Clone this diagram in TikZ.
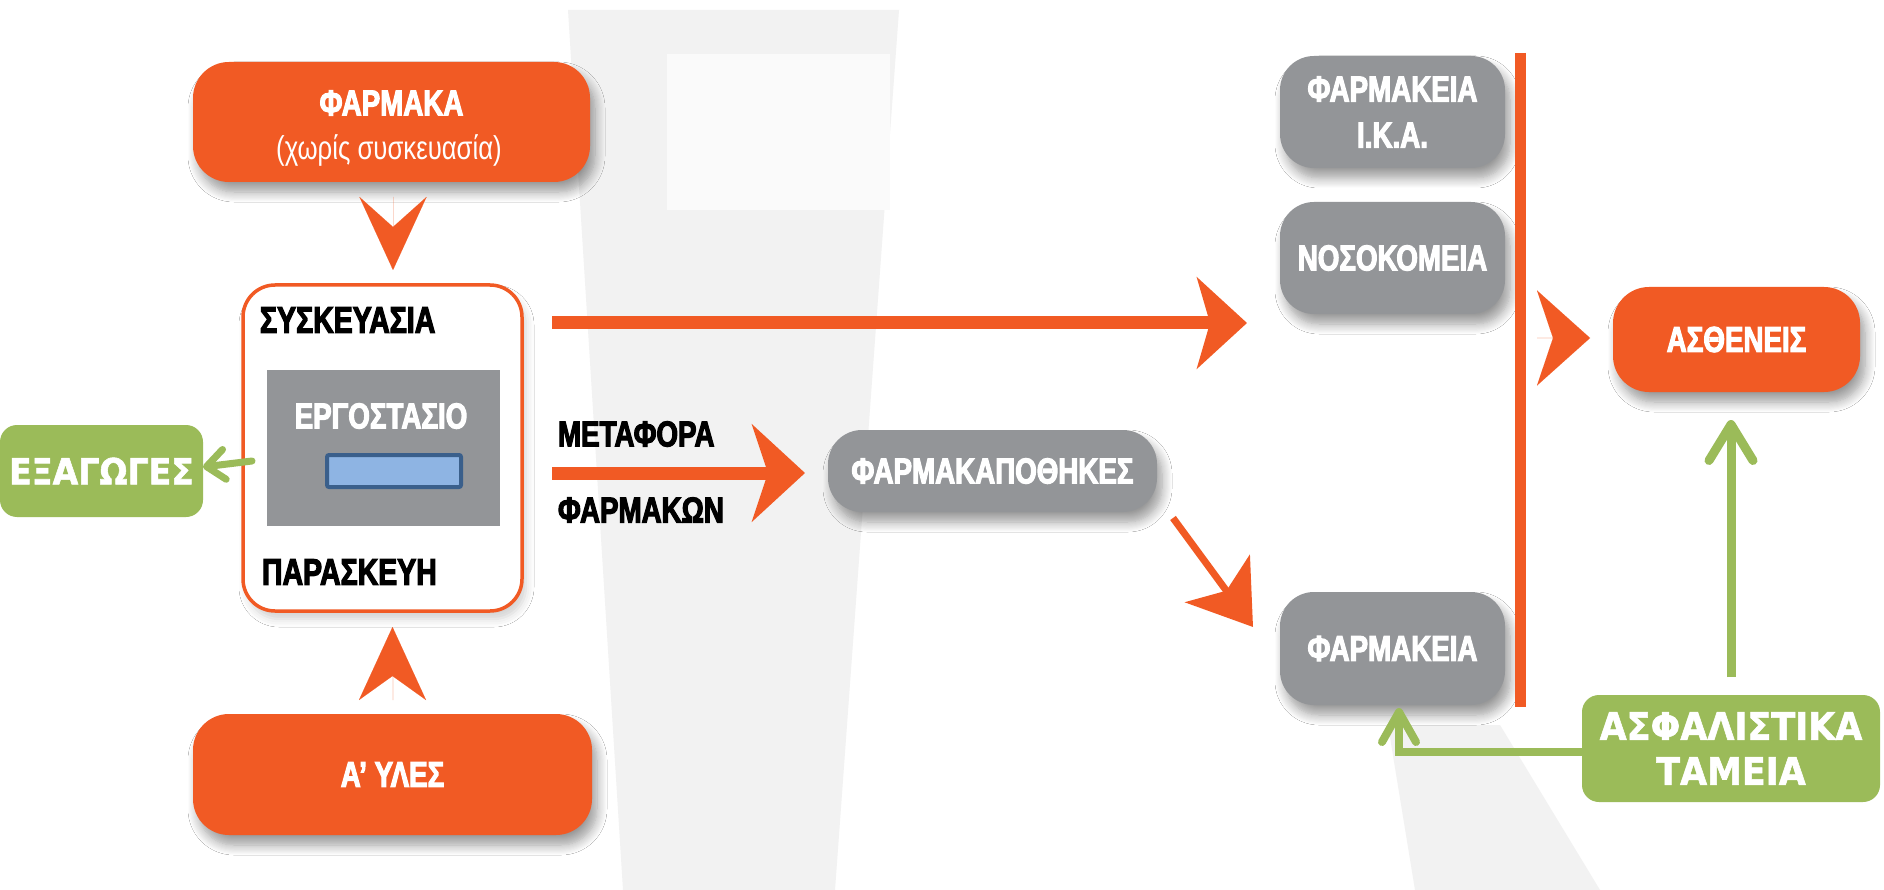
\documentclass[tikz,border=0pt]{standalone}
\usepackage{fontspec}
\setmainfont{Liberation Sans}
\newfontfamily\condf{Liberation Sans}[FakeStretch=0.78]
\newfontfamily\condb{Liberation Sans Bold}[FakeStretch=0.77,FakeBold=3]
\newfontfamily\dejab{DejaVu Sans Bold}[FakeStretch=0.92,FakeBold=1.5]
\usetikzlibrary{calc,arrows.meta,shadows.blur}
\definecolor{orng}{HTML}{F15A24}
\definecolor{gbox}{HTML}{939598}
\definecolor{grn}{HTML}{9BBB59}
\definecolor{bandc}{HTML}{F2F2F2}
\definecolor{bluef}{HTML}{8EB4E3}
\definecolor{blued}{HTML}{3A5F8B}
\begin{document}
\begin{tikzpicture}[x=1pt,y=-1pt,
  shad/.style={blur shadow={shadow xshift=5pt,shadow yshift=-10pt,shadow blur radius=10pt,shadow blur steps=10,shadow opacity=40}},
  basebox/.style={inner sep=0pt,outer sep=0pt,align=center,text=white},
  obox/.style={basebox,fill=orng,rounded corners=36pt,shad,font=\condb\fontsize{36}{46}\selectfont},
  gbx/.style={basebox,fill=gbox,rounded corners=34pt,shad,font=\condb\fontsize{36}{46}\selectfont},
  grbox/.style={basebox,fill=grn,rounded corners=17pt,font=\dejab\fontsize{36}{45}\selectfont},
  darktxt/.style={inner sep=0pt,outer sep=0pt,text=black,font=\condb\fontsize{37}{44}\selectfont},
  whitetxt/.style={inner sep=0pt,outer sep=0pt,text=white,font=\condb\fontsize{36}{44}\selectfont},
  chev/.style={draw=orng,fill=orng,line width=0.01pt},
  bigarrow/.style={draw=orng,line width=13pt,-{Stealth[length=50pt,width=91pt,inset=13pt]}},
  midarrow/.style={draw=orng,line width=13pt,-{Stealth[length=53pt,width=97pt,inset=16pt]}},
  diagarrow/.style={draw=orng,line width=7pt,-{Stealth[length=60pt,width=80pt,inset=15pt]}},
  garrow/.style={draw=grn,line width=7pt,line cap=round,-{Straight Barb[length=18pt,width=30pt,round]}},
  garrowb/.style={draw=grn,line width=9pt,-{Straight Barb[length=36pt,width=44pt,round]}},
  garrowc/.style={draw=grn,line width=8pt,-{Straight Barb[length=30pt,width=34pt,round]}}
]
\useasboundingbox (0,0) rectangle (1884,890);
\fill[white] (0,0) rectangle (1884,890);
% background shapes
\fill[bandc] (568,10) -- (899,10) -- (835,890) -- (623,890) -- cycle;
\fill[white!98!black] (667,54) rectangle (890,210);
\fill[bandc] (1388,725) -- (1500,725) -- (1600,890) -- (1415,890) -- cycle;

% left column
\node[obox,minimum width=397pt,minimum height=120pt] (farmaka) at (391.5,122) {};
\node[whitetxt] (farmakat) at (391.5,103) {ΦΑΡΜΑΚΑ};
\node[inner sep=0pt,text=white,font=\condf\fontsize{33}{40}\selectfont] (farmakas) at (389,150) {(χωρίς συσκευασία)};

\node[draw=orng,line width=3.5pt,fill=white,rounded corners=32pt,inner sep=0pt,outer sep=0pt,
  minimum width=279pt,minimum height=326pt,
  blur shadow={shadow xshift=4pt,shadow yshift=-8pt,shadow blur radius=8pt,shadow opacity=18}] (factory) at (382.5,448) {};
\node[darktxt,anchor=west] (suskt) at (260,320) {ΣΥΣΚΕΥΑΣΙΑ};
\node[fill=gbox,inner sep=0pt,outer sep=0pt,minimum width=233pt,minimum height=156pt] (ergrect) at (383.5,448) {};
\node[whitetxt] (ergt) at (381,416) {ΕΡΓΟΣΤΑΣΙΟ};
\node[fill=bluef,draw=blued,line width=4pt,rounded corners=2pt,inner sep=0pt,minimum width=134pt,minimum height=32pt] (bluer) at (394,471) {};
\node[darktxt,anchor=west] (paraskt) at (262,572) {ΠΑΡΑΣΚΕΥΗ};

\node[obox,minimum width=399pt,minimum height=121pt] (ules) at (392.5,774.5) {Α’ ΥΛΕΣ};
\node[grbox,minimum width=203pt,minimum height=92pt] (exag) at (101.5,471) {ΕΞΑΓΩΓΕΣ};

% middle
\node[darktxt,anchor=west,font=\condb\fontsize{36}{44}\selectfont] (metaft) at (558,434) {ΜΕΤΑΦΟΡΑ};
\node[darktxt,anchor=west,font=\condb\fontsize{36}{44}\selectfont] (farmakwnt) at (558,510) {ΦΑΡΜΑΚΩΝ};
\node[gbx,minimum width=329pt,minimum height=82pt] (apoth) at (992.5,471) {ΦΑΡΜΑΚΑΠΟΘΗΚΕΣ};

% right column
\node[gbx,minimum width=225pt,minimum height=112pt] (ika) at (1392.5,112) {ΦΑΡΜΑΚΕΙΑ\\Ι.Κ.Α.};
\node[gbx,minimum width=225pt,minimum height=112pt] (nosok) at (1392.5,258) {ΝΟΣΟΚΟΜΕΙΑ};
\node[gbx,minimum width=225pt,minimum height=113pt] (farm) at (1392.5,648.5) {ΦΑΡΜΑΚΕΙΑ};
\node[obox,minimum width=247pt,minimum height=105pt] (asth) at (1736.5,339.5) {ΑΣΘΕΝΕΙΣ};
\node[grbox,minimum width=298pt,minimum height=107pt,font=\dejab\fontsize{38}{45}\selectfont] (asf) at (1731,748.5) {ΑΣΦΑΛΙΣΤΙΚΑ\\ΤΑΜΕΙΑ};

% vertical bar
\coordinate (vt) at ($(ika.north east)+(15,-3)$);
\coordinate (vb) at ($(farm.south east)+(15,2)$);
\draw[orng,line width=11pt] (vt) -- (vb);

% chevrons
\draw[chev,-{Stealth[length=73pt,width=67pt,inset=30pt]}] ($(farmaka.south)+(1.5,15)$) -- ($(farmaka.south |- factory.north)+(1.5,-15)$);
\draw[chev,-{Stealth[length=73pt,width=67pt,inset=24pt]}] ($(ules.north)+(0,-14)$) -- ($(ules.north |- factory.south)+(0,16)$);
\draw[chev,-{Stealth[length=53pt,width=95pt,inset=16pt]}] ($(asth.west)+(-76,-1.5)$) -- ($(asth.west)+(-23,-1.5)$);

% connectors
\draw[bigarrow] ($(factory.north east)+(30,38)$) -- ($(nosok.south west)+(-33,9)$);
\draw[midarrow] ($(factory.east)+(30,25)$) -- ($(apoth.west)+(-23,2)$);
\draw[diagarrow] ($(apoth.south east)+(16,6)$) -- ($(farm.north west)+(-27,35)$);
\draw[garrow] ($(factory.west)+(9,13)$) -- ($(exag.east)+(0,-4)$);
\draw[garrowb] ($(asf.north)+(0,-18)$) -- ($(asth.south)+(-5.5,28)$);
\draw[garrowc] ($(asf.west)+(0,3.5)$) -| ($(farm.south)+(6.5,3)$);
\end{tikzpicture}
\end{document}
